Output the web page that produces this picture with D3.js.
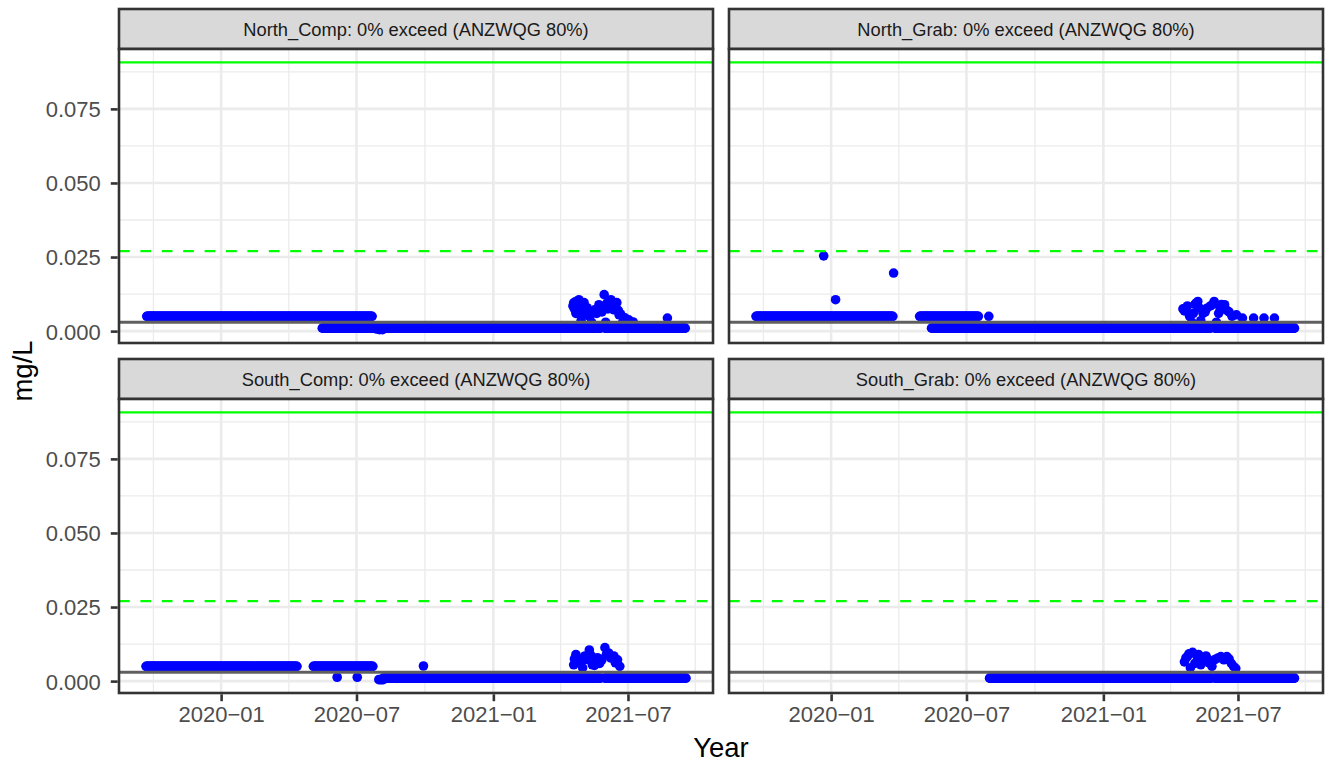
<!DOCTYPE html>
<html><head><meta charset="utf-8">
<script src="https://cdn.jsdelivr.net/npm/d3@7"></script>
<style>
body{margin:0;background:#fff}
text{font-family:"Liberation Sans", Arial, Helvetica, sans-serif}
</style>
</head><body>
<svg id="chart" width="1334" height="764"></svg>
<script>
// ---------------- DATA ----------------
const panelNames = ["North_Comp", "North_Grab", "South_Comp", "South_Grab"];
const stripLabels = [
  "North_Comp: 0% exceed (ANZWQG 80%)",
  "North_Grab: 0% exceed (ANZWQG 80%)",
  "South_Comp: 0% exceed (ANZWQG 80%)",
  "South_Grab: 0% exceed (ANZWQG 80%)"
];

// runs of daily readings at a constant (reporting-limit) value: [start, end, mg/L]
const northCompRuns = [["2019-09-23","2020-07-22",0.005],["2020-05-16","2021-05-25",0.001],["2021-05-31","2021-09-16",0.001]];
const northGrabRuns = [["2019-09-22","2020-03-24",0.005],["2020-04-29","2020-07-17",0.005],["2020-05-15","2021-05-25",0.001],["2021-05-31","2021-09-15",0.001]];
const southCompRuns = [["2019-09-22","2020-04-12",0.005],["2020-05-04","2020-07-23",0.005],["2020-08-06","2021-05-25",0.001],["2021-05-31","2021-09-17",0.001]];
const southGrabRuns = [["2020-08-01","2021-05-26",0.001],["2021-05-31","2021-09-15",0.001]];

// individual readings: [date, mg/L]
const northCompPoints = [
  ["2020-05-30",0.0018],["2020-06-06",0.0014],["2020-06-12",0.0018],["2020-06-19",0.0015],["2020-06-26",0.002],["2020-07-03",0.0017],
  ["2020-07-28",0.0007],["2020-08-01",0.0005],["2020-08-05",0.0005],
  ["2021-04-18",0.0085],["2021-04-19",0.0095],["2021-04-20",0.0075],["2021-04-21",0.0099],["2021-04-22",0.006],["2021-04-23",0.0088],
  ["2021-04-24",0.0072],["2021-04-25",0.0065],["2021-04-26",0.0106],["2021-04-27",0.0082],["2021-04-28",0.0055],["2021-04-29",0.0035],
  ["2021-05-01",0.0062],["2021-05-02",0.0085],["2021-05-03",0.0096],["2021-05-05",0.007],["2021-05-07",0.0079],["2021-05-08",0.0055],
  ["2021-05-10",0.005],["2021-05-13",0.003],["2021-05-14",0.006],["2021-05-17",0.0072],["2021-05-20",0.006],["2021-05-23",0.0089],
  ["2021-05-25",0.0075],["2021-05-27",0.0065],["2021-05-30",0.0123],["2021-06-01",0.003],["2021-06-03",0.0095],["2021-06-04",0.0075],
  ["2021-06-06",0.0089],["2021-06-08",0.0106],["2021-06-10",0.008],["2021-06-12",0.0072],["2021-06-14",0.0085],["2021-06-16",0.0096],
  ["2021-06-18",0.007],["2021-06-19",0.0055],["2021-06-21",0.0058],["2021-06-24",0.003],
  ["2021-06-27",0.0045],["2021-07-02",0.0038],["2021-07-08",0.0031],["2021-08-23",0.0044]
];
const northGrabPoints = [
  ["2019-12-22",0.0254],["2020-01-07",0.0106],["2020-03-25",0.0196],["2020-07-31",0.005],
  ["2020-05-26",0.0012],["2020-06-04",0.0015],["2020-06-19",0.002],["2020-07-03",0.0015],
  ["2021-04-18",0.0075],["2021-04-20",0.0068],["2021-04-22",0.0077],["2021-04-24",0.0085],["2021-04-27",0.005],["2021-04-30",0.003],
  ["2021-05-02",0.006],["2021-05-04",0.009],["2021-05-06",0.0095],["2021-05-08",0.010],["2021-05-10",0.0078],["2021-05-12",0.0035],
  ["2021-05-15",0.006],["2021-05-18",0.0065],["2021-05-20",0.0077],["2021-05-25",0.0085],["2021-05-28",0.009],["2021-05-30",0.010],
  ["2021-06-02",0.003],["2021-06-05",0.006],["2021-06-07",0.0075],["2021-06-09",0.009],["2021-06-11",0.0082],["2021-06-13",0.0089],
  ["2021-06-16",0.007],["2021-06-19",0.0065],["2021-06-23",0.005],["2021-06-29",0.0055],
  ["2021-07-07",0.0044],["2021-07-22",0.0044],["2021-08-05",0.0044],["2021-08-19",0.0044]
];
const southCompPoints = [
  ["2020-06-05",0.0013],["2020-07-02",0.0013],
  ["2020-07-31",0.0005],["2020-08-02",0.0005],["2020-08-04",0.0005],["2020-08-06",0.0005],
  ["2020-09-29",0.0051],
  ["2021-04-19",0.0055],["2021-04-20",0.0075],["2021-04-22",0.009],["2021-04-24",0.0078],["2021-04-26",0.0062],["2021-04-29",0.0068],
  ["2021-05-01",0.0045],["2021-05-04",0.0085],["2021-05-07",0.0073],["2021-05-10",0.0105],["2021-05-12",0.0088],["2021-05-14",0.0055],
  ["2021-05-17",0.0053],["2021-05-19",0.0065],["2021-05-21",0.0079],["2021-05-24",0.006],["2021-05-27",0.0072],["2021-05-31",0.0113],
  ["2021-06-02",0.009],["2021-06-05",0.0095],["2021-06-08",0.0078],["2021-06-12",0.0085],["2021-06-14",0.0062],["2021-06-17",0.0072],
  ["2021-06-20",0.005]
];
const southGrabPoints = [
  ["2021-04-20",0.0065],["2021-04-22",0.0078],["2021-04-24",0.0083],["2021-04-26",0.0092],["2021-04-28",0.0045],["2021-05-01",0.0097],
  ["2021-05-04",0.006],["2021-05-06",0.0088],["2021-05-09",0.009],["2021-05-12",0.0055],["2021-05-13",0.0068],["2021-05-15",0.0073],
  ["2021-05-19",0.0085],["2021-05-21",0.0075],["2021-05-23",0.0062],["2021-05-27",0.005],["2021-05-31",0.0073],["2021-06-04",0.0078],
  ["2021-06-08",0.0083],["2021-06-12",0.0072],["2021-06-16",0.0083],["2021-06-19",0.0075],["2021-06-22",0.006],["2021-06-25",0.005],
  ["2021-06-28",0.0043]
];

// guideline values (mg/L)
const guidelineSolid = [0.0907];
const guidelineDashed = [0.027];
const referenceLine = [0.003];

// ticks
const xTickDates = ["2020-01-01","2020-07-01","2021-01-01","2021-07-01"];
const xTickLabels = ["2020\u221201","2020\u221207","2021\u221201","2021\u221207"];
const yTickValues = [0, 0.025, 0.05, 0.075];
const yTickLabels = ["0.000","0.025","0.050","0.075"];
const xTitle = "Year";
const yTitle = "mg/L";

// ---------------- BUILD ----------------
const parse = d3.utcParse("%Y-%m-%d");
function expand(runs, points) {
  const out = [];
  runs.forEach(([s, e, v]) => {
    d3.utcDay.range(parse(s), d3.utcDay.offset(parse(e), 1)).forEach(d => out.push({date: d, value: v}));
  });
  points.forEach(([d, v]) => out.push({date: parse(d), value: v}));
  return out;
}
const panelData = [
  expand(northCompRuns, northCompPoints),
  expand(northGrabRuns, northGrabPoints),
  expand(southCompRuns, southCompPoints),
  expand(southGrabRuns, southGrabPoints)
];

const all = panelData.flat();
const xExt = d3.extent(all, d => d.date);
const xSpan = xExt[1] - xExt[0];
const xDomain = [new Date(+xExt[0] - 0.05 * xSpan), new Date(+xExt[1] + 0.05 * xSpan)];
const yVals = all.map(d => d.value).concat(guidelineSolid, guidelineDashed, referenceLine);
const yMin = d3.min(yVals), yMax = d3.max(yVals), ySpan = yMax - yMin;
const yDomain = [yMin - 0.05 * ySpan, yMax + 0.05 * ySpan];

// layout
const colX = [119, 729], panelW = 594;
const rowStripTop = [9, 359], stripH = 40, panelH = 294;
const lw = 2.6;

const svg = d3.select("#chart");
svg.append("rect").attr("width", 1334).attr("height", 764).attr("fill", "#fff");

const xMajor = xTickDates.map(parse);
// minor breaks: midpoints between majors (extended one step each side)
const stepBefore = new Date(2 * xMajor[0] - xMajor[1]);
const stepAfter = new Date(2 * xMajor[3] - xMajor[2]);
const xAll = [stepBefore, ...xMajor, stepAfter];
const xMinor = d3.pairs(xAll).map(([a, b]) => new Date((+a + +b) / 2));
const yMinor = d3.pairs([-0.025, ...yTickValues, 0.1]).map(([a, b]) => (a + b) / 2);

panelData.forEach((data, i) => {
  const col = i % 2, row = Math.floor(i / 2);
  const x0 = colX[col], st = rowStripTop[row], pTop = st + stripH, pBot = pTop + panelH;
  const x = d3.scaleUtc().domain(xDomain).range([x0, x0 + panelW]);
  const y = d3.scaleLinear().domain(yDomain).range([pBot, pTop]);
  const g = svg.append("g");

  // strip
  g.append("rect").attr("x", x0).attr("y", st).attr("width", panelW).attr("height", stripH)
    .attr("fill", "#D9D9D9").attr("stroke", "#333333").attr("stroke-width", lw);
  g.append("text").attr("x", x0 + panelW / 2).attr("y", st + stripH / 2).attr("dy", "0.36em")
    .attr("text-anchor", "middle").attr("font-size", 18.3).attr("fill", "#1A1A1A").text(stripLabels[i]);

  // panel background
  g.append("rect").attr("x", x0).attr("y", pTop).attr("width", panelW).attr("height", panelH).attr("fill", "#fff");

  const inY = v => v > yDomain[0] && v < yDomain[1];
  const inX = d => d > xDomain[0] && d < xDomain[1];
  // minor grid
  g.selectAll(".ymin").data(yMinor.filter(inY)).join("line")
    .attr("x1", x0).attr("x2", x0 + panelW).attr("y1", d => y(d)).attr("y2", d => y(d))
    .attr("stroke", "#EBEBEB").attr("stroke-width", 1.3);
  g.selectAll(".xmin").data(xMinor.filter(inX)).join("line")
    .attr("y1", pTop).attr("y2", pBot).attr("x1", d => x(d)).attr("x2", d => x(d))
    .attr("stroke", "#EBEBEB").attr("stroke-width", 1.3);
  // major grid
  g.selectAll(".ymaj").data(yTickValues).join("line")
    .attr("x1", x0).attr("x2", x0 + panelW).attr("y1", d => y(d)).attr("y2", d => y(d))
    .attr("stroke", "#EBEBEB").attr("stroke-width", 2.6);
  g.selectAll(".xmaj").data(xMajor).join("line")
    .attr("y1", pTop).attr("y2", pBot).attr("x1", d => x(d)).attr("x2", d => x(d))
    .attr("stroke", "#EBEBEB").attr("stroke-width", 2.6);

  // points
  g.selectAll(".pt").data(data).join("circle")
    .attr("cx", d => x(d.date)).attr("cy", d => y(d.value)).attr("r", 4.8).attr("fill", "#0000FF");

  // guideline lines
  g.selectAll(".ref").data(referenceLine).join("line")
    .attr("x1", x0).attr("x2", x0 + panelW).attr("y1", d => y(d)).attr("y2", d => y(d))
    .attr("stroke", "#606060").attr("stroke-width", 2.8);
  g.selectAll(".gd").data(guidelineDashed).join("line")
    .attr("x1", x0).attr("x2", x0 + panelW).attr("y1", d => y(d)).attr("y2", d => y(d))
    .attr("stroke", "#00FF00").attr("stroke-width", 2.4).attr("stroke-dasharray", "10.7,10.7");
  g.selectAll(".gs").data(guidelineSolid).join("line")
    .attr("x1", x0).attr("x2", x0 + panelW).attr("y1", d => y(d)).attr("y2", d => y(d))
    .attr("stroke", "#00FF00").attr("stroke-width", 2.4);

  // border
  g.append("rect").attr("x", x0).attr("y", pTop).attr("width", panelW).attr("height", panelH)
    .attr("fill", "none").attr("stroke", "#333333").attr("stroke-width", lw);

  // axes
  if (col === 0) {
    const ax = d3.axisLeft(y).tickValues(yTickValues).tickFormat((d, k) => yTickLabels[k])
      .tickSize(6.9).tickPadding(10);
    const a = svg.append("g").attr("transform", `translate(${x0 - lw / 2},0)`).call(ax);
    a.select(".domain").remove();
    a.selectAll(".tick line").attr("stroke", "#333333").attr("stroke-width", lw);
    a.selectAll(".tick text").attr("font-size", 22).attr("fill", "#4D4D4D")
      .attr("font-family", '"Liberation Sans", Arial, sans-serif').attr("dy", "0.36em");
  }
  if (row === 1) {
    const ax = d3.axisBottom(x).tickValues(xMajor).tickFormat((d, k) => xTickLabels[k])
      .tickSize(6.9).tickPadding(5.5);
    const a = svg.append("g").attr("transform", `translate(0,${pBot + lw / 2})`).call(ax);
    a.select(".domain").remove();
    a.selectAll(".tick line").attr("stroke", "#333333").attr("stroke-width", lw);
    a.selectAll(".tick text").attr("font-size", 22).attr("fill", "#4D4D4D")
      .attr("font-family", '"Liberation Sans", Arial, sans-serif');
  }
});

// axis titles
svg.append("text").attr("x", (colX[0] + colX[1] + panelW) / 2).attr("y", 757)
  .attr("text-anchor", "middle").attr("font-size", 27.5).attr("fill", "#000").text(xTitle);
svg.append("text").attr("transform", `translate(32,${(rowStripTop[0] + stripH + rowStripTop[1] + stripH + panelH) / 2}) rotate(-90)`)
  .attr("text-anchor", "middle").attr("font-size", 27.5).attr("fill", "#000").text(yTitle);
</script>
</body></html>
